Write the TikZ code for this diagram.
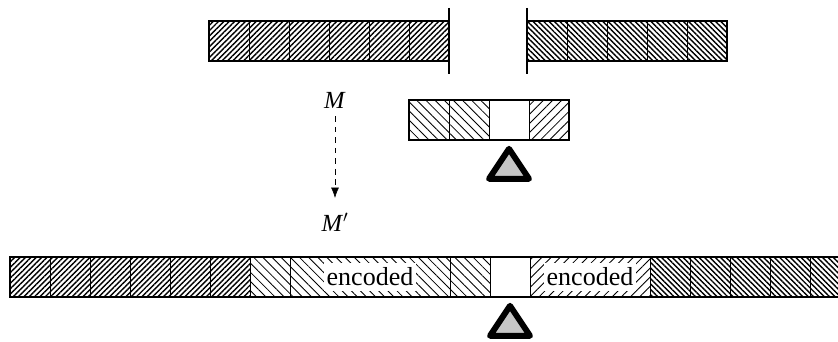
\documentclass[tikz,border=0pt]{standalone}
\usepackage{fontspec}
\setmainfont{Liberation Serif}
\usetikzlibrary{patterns.meta,arrows.meta}
\tikzset{
  cell/.style={draw, line width=0.6pt, minimum width=1cm, minimum height=1cm, inner sep=0pt, outer sep=0pt},
  densene/.style={cell, pattern={Lines[angle=45,distance=2.7pt,line width=1pt]}},
  densenw/.style={cell, pattern={Lines[angle=-45,distance=2.7pt,line width=1pt]}},
  sparsene/.style={cell, pattern={Lines[angle=45,distance=4.6pt,line width=0.6pt]}},
  sparsenw/.style={cell, pattern={Lines[angle=-45,distance=4.6pt,line width=0.6pt]}},
  frame/.style={line width=2pt},
  tick/.style={line width=1.5pt},
  pointer/.style={draw, line width=4.2pt, line join=round, fill=gray!45},
  word/.style={fill=white, inner sep=2pt, minimum height=0.72cm, font=\fontsize{18.5}{20}\selectfont},
  sym/.style={font=\fontsize{17.5}{19}\selectfont}
}
\begin{document}
\begin{tikzpicture}
\clip (0,0) rectangle (20.95,-8.55);
% top row, left part
\node[densene](a1) at (5.725, -1.025) {};
\node[densene](a2) at (6.725, -1.025) {};
\node[densene](a3) at (7.725, -1.025) {};
\node[densene](a4) at (8.725, -1.025) {};
\node[densene](a5) at (9.725, -1.025) {};
\node[densene](a6) at (10.725, -1.025) {};
% top row, right part
\node[densenw](b1) at (13.675, -1.025) {};
\node[densenw](b2) at (14.675, -1.025) {};
\node[densenw](b3) at (15.675, -1.025) {};
\node[densenw](b4) at (16.675, -1.025) {};
\node[densenw](b5) at (17.675, -1.025) {};
\draw[frame] (a1.north west) rectangle (a6.south east);
\draw[frame] (b1.north west) rectangle (b5.south east);
\draw[tick] ([yshift=0.33cm]a6.north east) -- ([yshift=-0.33cm]a6.south east);
\draw[tick] ([yshift=0.33cm]b1.north west) -- ([yshift=-0.33cm]b1.south west);
% window
\node[sparsenw](c1) at (10.725, -3.0) {};
\node[sparsenw](c2) at (11.725, -3.0) {};
\node[cell](c3) at (12.725, -3.0) {};
\node[sparsene](c4) at (13.725, -3.0) {};
\draw[frame] (c1.north west) rectangle (c4.south east);
\draw[pointer] ([yshift=-0.22cm]c3.south) -- ++(-0.5,-0.75) -- ++(1,0) -- cycle;
% move
\node[sym](M) at (8.375, -2.5) {\textit{M}};
\node[sym](Mp) at (8.375, -5.55) {\textit{M}$'$};
\draw[-{Latex[length=2.6mm,width=2mm]}, dash pattern=on 4pt off 3.5pt, shorten <=0.08cm, shorten >=0.25cm] (M) -- (Mp);
% bottom row
\node[densene](d1) at (0.75, -6.925) {};
\node[densene](d2) at (1.75, -6.925) {};
\node[densene](d3) at (2.75, -6.925) {};
\node[densene](d4) at (3.75, -6.925) {};
\node[densene](d5) at (4.75, -6.925) {};
\node[densene](d6) at (5.75, -6.925) {};
\node[sparsenw](d7) at (6.75, -6.925) {};
\node[sparsenw, minimum width=4cm](d8) at (9.25, -6.925) {};
\node[sparsenw](d9) at (11.75, -6.925) {};
\node[cell](d10) at (12.75, -6.925) {};
\node[sparsene, minimum width=3cm](d11) at (14.75, -6.925) {};
\node[densenw](d12) at (16.75, -6.925) {};
\node[densenw](d13) at (17.75, -6.925) {};
\node[densenw](d14) at (18.75, -6.925) {};
\node[densenw](d15) at (19.75, -6.925) {};
\node[densenw](d16) at (20.75, -6.925) {};
\node[word](e1) at (d8) {encoded};
\node[word](e2) at (d11) {encoded};
\draw[frame] (d1.north west) rectangle (d16.south east);
\draw[pointer] ([yshift=-0.22cm]d10.south) -- ++(-0.5,-0.75) -- ++(1,0) -- cycle;
\end{tikzpicture}
\end{document}
